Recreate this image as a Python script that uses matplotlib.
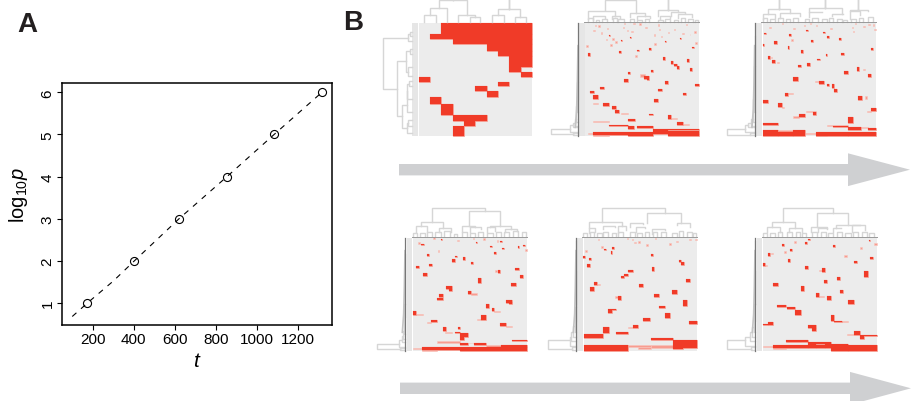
import numpy as np
import matplotlib
matplotlib.use("Agg")
import matplotlib.pyplot as plt
from matplotlib.patches import Polygon

plt.rcParams['font.family'] = ['Liberation Sans', 'DejaVu Sans']
plt.rcParams['mathtext.fontset'] = 'custom'
plt.rcParams['mathtext.rm'] = 'Liberation Sans'
plt.rcParams['mathtext.it'] = 'Liberation Sans:italic'

W, H = 911, 402
RED, PALE, BG, DEND = '#F03B28', '#F79C90', '#ECECEC', '#D6D6D6'

# ---- panel A data
t_line = [100, 174, 300, 403, 621, 855, 1085, 1318]
logp_line = [0.68, 1, 1.52, 2, 3, 4, 5, 6]
t_pts = [174, 403, 621, 855, 1085, 1318]
logp_pts = [1, 2, 3, 4, 5, 6]
xticks = [200, 400, 600, 800, 1000, 1200]
yticks = [1, 2, 3, 4, 5, 6]

# ---- panel B data: block tuples are (col0, col1, row0, row1); merges (a, b, ha, hb, top)
p1_red = [(304,576,71,105),(270,576,105,120),(338,576,120,134),(440,576,134,155),(474,576,155,172),
          (508,576,172,205),(508,542,205,218),(542,576,218,235),(236,270,235,249),(474,508,249,260),
          (406,440,260,277),(440,474,277,293),(270,304,293,315),(304,338,315,347),(338,440,347,367),
          (372,406,367,381),(338,372,381,410)]
p1_pale = []
p1_top = [(253,287,70,70,49),(270,321,49,70,28),(355,406,70,55,49),(389,421,70,70,55),(296,380,28,49,4),
          (338,338,4,4,-3),(457,491,70,70,49),(525,559,70,70,55),(473,541,49,55,31),(508,508,31,31,-3)]
p1_left = [(100,112,215,215,210),(106,126,210,215,205),(118,271,205,170,130),(150,165,215,215,209),
           (204,232,215,215,205),(155,218,209,205,197),(187,352,197,187,170),(245,262,215,215,206),
           (254,300,206,215,200),(275,340,200,215,200),(318,387,200,202,187),(362,380,215,215,205),
           (372,402,205,215,202)]

p2_red = [(177,180,108,112),(240,243,114,117),(213,217,123,126),(391,393,117,120),(344,348,125,128),
          (427,433,143,147),(208,213,156,163),(260,266,152,156),(298,303,148,153),(114,120,162,170),
          (338,344,174,182),(410,416,180,188),(364,370,186,194),(373,380,195,202),(380,386,202,209),
          (419,426,208,215),(303,310,213,220),(234,240,220,226),(283,290,232,240),(291,297,232,242),
          (222,233,240,248),(344,354,247,256),(436,446,255,262),(150,161,264,271),(120,131,275,281),
          (324,336,270,276),(400,408,282,289),(130,144,289,299),(311,324,300,310),(160,176,311,320),
          (186,197,322,331),(196,206,333,343),(296,310,344,349),(353,363,348,360),(233,254,360,367),
          (380,400,369,378),(177,233,378,382),(233,253,381,389),(260,310,380,388),(310,354,389,404),
          (354,446,389,393),(354,446,397,404),(130,310,400,408),(234,310,403,410),(354,446,404,410)]
p2_pale = [(134,138,78,82),(145,150,79,84),(170,174,87,90),(130,135,92,96),(152,155,99,105),(222,225,72,76),
           (218,222,84,88),(230,234,93,96),(244,248,96,100),(250,255,72,75),(268,272,72,77),(286,290,83,88),
           (325,328,75,80),(327,330,90,93),(311,315,105,110),(354,357,99,102),(371,374,89,92),(397,401,101,104),
           (408,411,75,78),(433,437,96,101),(419,421,104,108),(333,337,111,114),(186,191,117,122),(168,172,120,123),
           (195,200,127,132),(181,187,136,140),(435,440,129,135),(312,317,132,137),(108,113,138,143),(254,260,168,175),
           (271,284,226,233),(130,145,312,315),(213,233,343,345),(364,380,357,359),(130,176,366,369),(400,416,376,378),
           (113,130,402,404),(130,177,408,410)]
p2_top = [(164,259,33,42,2),(355,355,33,33,-3),(115,196,60,50,36),(130,165,62,58,52),(185,210,60,58,50),
          (241,285,55,50,42),(262,300,60,58,50),(323,384,50,38,33),(364,404,50,42,38),(330,360,60,58,50),
          (385,425,58,55,44),(115,130,68,68,58),(137,148,68,68,62),(155,172,68,68,60),(188,200,68,68,58),
          (205,222,68,68,60),(240,252,68,68,60),(262,275,68,68,62),(285,298,68,68,60),(325,338,68,68,62),
          (346,360,68,68,60),(372,385,68,68,62),(392,405,68,68,58),(415,430,68,68,60),(435,443,68,68,62)]
p2_left = [(402,409,85,85,70),(389,406,60,70,2),(378,400,68,85,60),(372,385,75,85,68),(360,380,78,85,75),
           (320,370,82,85,78),(250,340,84,85,82),(140,300,85,85,84)]

p3_red = [(243,248,92,96),(295,299,99,102),(117,122,102,106),(192,197,105,111),(307,311,111,117),(342,347,117,122),
          (259,265,123,128),(148,156,127,135),(188,193,141,149),(113,118,135,141),(228,233,154,161),(349,358,162,167),
          (438,443,147,154),(302,307,165,172),(128,134,172,179),(142,149,183,192),(276,284,180,184),(247,254,192,200),
          (219,227,199,205),(395,403,204,215),(358,368,216,226),(428,438,226,235),(204,218,235,245),(283,296,246,254),
          (320,327,255,268),(307,313,255,260),(327,336,270,280),(180,188,282,292),(398,412,292,302),(113,130,303,313),
          (159,170,312,325),(265,274,339,347),(222,240,346,354),(437,453,327,335),(368,384,354,372),(113,160,373,377),
          (325,368,381,385),(369,408,385,394),(428,453,386,394),(113,160,393,410),(205,240,393,410),(160,205,400,410),
          (272,369,400,410),(369,453,400,410)]
p3_pale = [(170,174,72,76),(238,241,78,81),(256,258,72,74),(273,277,78,82),(133,137,83,86),(205,209,87,91),
           (316,320,86,90),(380,383,84,87),(384,388,96,99),(390,394,72,75),(415,419,80,83),(428,434,74,78),
           (443,447,74,80),(448,453,90,93),(197,203,121,125),(137,142,173,176),(156,161,190,193),(414,419,210,212),
           (271,284,246,248),(188,203,282,285),(420,427,292,300),(170,178,323,327),(244,274,336,339),(205,222,352,356),
           (426,437,335,338),(306,368,378,381),(384,428,385,388),(160,205,394,400),(240,272,402,404),(272,306,408,410)]
p3_top = [(163,163,30,30,-3),(301,301,27,27,-3),(400,400,33,33,-3),(128,196,46,42,30),(252,350,38,44,27),
          (376,430,36,36,33),(115,150,60,58,46),(165,225,58,50,42),(252,290,55,38,38),
          (320,355,52,46,44),(376,405,60,48,36),(115,127,68,68,58),(135,150,68,68,60),(160,175,68,68,58),
          (182,195,68,68,60),(205,220,68,68,58),(240,252,68,68,60),(262,278,68,68,58),(290,305,68,68,60),
          (312,325,68,68,58),(335,350,68,68,60),(355,365,68,68,62),(378,392,68,68,60),(402,415,68,68,58),
          (428,443,68,68,55)]
p3_left = [(402,409,90,90,76),(390,407,60,76,7),(378,400,70,90,60),(372,385,78,90,70),(360,380,84,90,78),
           (300,370,87,90,84),(200,340,89,90,87),(110,300,90,90,89)]

p4_red = [(212,216,104,107),(390,395,111,114),(317,321,114,117),(153,161,119,123),(360,365,125,128),(395,402,132,135),
          (443,447,127,131),(459,464,124,127),(373,377,143,150),(170,176,150,155),(255,261,155,159),(278,284,159,167),
          (247,254,166,175),(304,309,175,180),(178,185,180,186),(137,146,186,193),(436,448,192,198),(385,391,198,208),
          (159,171,207,215),(451,460,213,223),(324,333,223,236),(424,437,237,247),(228,246,246,255),(238,246,255,262),
          (208,220,270,278),(201,220,282,288),(294,304,262,271),(407,426,287,296),(417,426,295,301),(348,357,300,311),
          (365,373,311,322),(129,137,322,332),(333,347,332,347),(184,201,347,355),(390,407,357,366),(220,227,368,382),
          (263,270,368,374),(254,270,383,387),(270,293,388,398),(270,282,398,408),(270,294,417,424),(313,348,416,423),
          (425,470,407,412),(157,270,430,437),(270,470,430,440),(392,470,424,430)]
p4_pale = [(188,194,100,104),(262,267,108,111),(308,312,102,106),(340,345,102,107),(380,385,108,113),(145,150,115,119),
           (464,470,135,140),(203,208,139,143),(376,381,199,203),(304,320,268,272),(373,391,320,323),(137,158,329,332),
           (322,333,345,348),(170,184,354,358),(407,425,366,368),(226,245,385,388),(200,270,411,416),(270,348,416,418),
           (129,157,432,434),(348,392,424,429),(157,200,437,440)]
p4_top = [(187,345,55,22,12),(153,220,65,72,55),(298,391,65,65,22),(137,172,85,85,65),(208,243,85,85,72),
          (277,316,85,70,65),(360,422,70,75,65),(300,332,85,75,70),(352,375,85,80,70),(404,440,85,82,75),
          (130,142,96,96,88),(150,165,96,96,88),(172,185,96,96,85),(195,212,96,96,85),(222,240,96,96,82),
          (252,262,96,96,90),(277,290,96,96,85),(300,315,96,96,88),(325,340,96,96,85),(352,368,96,96,88),
          (378,392,96,96,85),(402,418,96,96,85),(430,445,96,96,82),(455,468,96,96,85)]
p4_left = [(432,439,106,106,90),(421,436,88,90,22),(408,428,96,106,88),(396,415,100,106,96),(380,405,103,106,100),
           (300,390,105,106,103),(150,340,106,106,105)]

p5_red = [(162,167,134,139),(186,191,129,134),(182,186,141,150),(100,106,156,162),(117,124,162,168),(302,308,149,155),
          (112,119,181,189),(388,394,169,174),(394,401,174,182),(233,248,199,203),(222,233,209,215),(213,222,216,223),
          (307,313,189,200),(408,419,224,234),(132,140,235,243),(120,132,250,260),(266,279,241,250),(204,214,277,287),
          (312,328,270,278),(366,380,259,270),(398,411,289,305),(328,346,306,313),(345,360,328,342),(175,197,315,319),
          (175,186,319,327),(279,301,342,350),(416,441,351,360),(160,176,370,386),(250,265,362,372),(197,235,385,391),
          (101,160,391,402),(302,368,402,408),(368,441,408,432),(101,235,424,440),(368,400,432,434)]
p5_pale = [(143,148,105,108),(230,234,102,105),(245,249,106,109),(252,257,114,118),(264,269,112,116),(288,293,121,125),
           (315,318,102,104),(358,364,118,122),(378,384,112,115),(418,423,104,107),(436,440,105,109),(152,159,127,131),
           (105,112,138,143),(142,150,240,242),(196,204,277,281),(235,250,368,372),(235,302,424,430),(265,302,430,434),
           (302,368,424,432)]
p5_top = [(155,344,55,28,12),(118,215,72,66,55),(292,394,58,58,28),(240,280,68,60,58),(380,420,62,70,58),
          (160,195,75,68,66),(205,228,88,78,66),(118,135,88,85,72),(305,345,90,78,75),(258,285,85,72,68),
          (100,110,96,96,88),(120,132,96,96,85),(140,155,96,96,88),(160,175,96,96,85),(185,198,96,96,88),
          (205,220,96,96,85),(240,255,96,96,85),(262,275,96,96,88),(285,298,96,96,85),(310,322,96,96,85),
          (332,348,96,96,85),(365,380,96,96,88),(388,400,96,96,82),(410,425,96,96,85),(428,438,96,96,88)]
p5_left = [(430,437,79,79,65),(409,436,60,65,-6),(398,425,62,79,60),(385,412,70,79,62),(365,400,74,79,70),
           (310,385,77,79,74),(200,350,79,79,77),(110,300,79,79,79)]

p6_red = [(250,255,104,108),(240,245,115,120),(172,177,120,125),(194,200,134,142),(130,136,146,155),(324,330,124,130),
          (432,436,108,112),(436,443,158,165),(387,396,171,177),(188,195,165,173),(114,120,177,186),(241,250,185,195),
          (291,299,193,203),(418,430,201,218),(337,344,218,228),(298,307,227,237),(144,160,237,245),(227,236,245,261),
          (345,354,259,268),(273,282,267,278),(307,318,277,289),(368,387,288,301),(157,184,303,309),(185,209,309,315),
          (209,227,318,333),(318,327,333,350),(327,350,350,353),(130,144,353,362),(114,130,359,362),(249,272,362,372),
          (262,272,372,381),(388,406,381,392),(406,418,393,406),(418,456,393,397),(182,249,407,415),(144,249,422,433),
          (249,318,415,420),(249,272,420,433),(300,318,420,433),(272,300,424,433),(318,368,420,440),(368,456,424,440)]
p6_pale = [(208,214,112,116),(176,183,141,147),(137,143,146,149),(356,366,153,158),(405,412,129,134),(448,456,117,122),
           (120,125,183,186),(282,291,198,202),(282,298,275,278),(350,368,351,355),(367,388,390,393),(186,227,412,415),
           (114,144,426,428),(144,182,432,435)]
p6_top = [(175,323,55,28,13),(142,209,68,72,55),(277,370,68,62,28),(127,165,85,85,68),(192,230,85,85,72),
          (259,306,85,72,68),(334,405,72,64,62),(280,305,85,75,72),(325,347,85,72,72),(380,420,85,78,64),
          (115,127,96,96,88),(135,150,96,96,88),(158,172,96,96,85),(185,200,96,96,85),(212,226,96,96,85),
          (230,242,96,96,88),(260,275,96,96,85),(288,302,96,96,85),(310,325,96,96,88),(335,350,96,96,85),
          (360,378,96,96,88),(385,398,96,96,85),(410,425,96,96,85),(432,448,96,96,88)]
p6_left = [(428,437,91,91,78),(409,434,60,78,7),(400,425,76,91,60),(385,412,82,91,76),(370,400,86,91,82),
           (300,385,89,91,86),(200,350,91,91,89),(110,300,91,91,91)]

# taper of the fine leaf comb left of the dark line: (offset left of the line, row)
wedge_offset = [1, 3, 5, 9]
wedge_row = [140, 250, 330, 385]

# crop origin (px), crop size (px), heat col range, heat row range, strip range
panels = [
    dict(o=(340, 0), s=(200, 150), heat=(236,576,71,410), strip=(216,234), red=p1_red, pale=p1_pale, top=p1_top, left=p1_left, dark=None, base=None),
    dict(o=(550, 0), s=(180, 150), heat=(106,446,71,410), strip=(87,104), red=p2_red, pale=p2_pale, top=p2_top, left=p2_left, dark=85, base=69),
    dict(o=(725, 0), s=(186, 150), heat=(113,453,71,410), strip=(93,111), red=p3_red, pale=p3_pale, top=p3_top, left=p3_left, dark=90, base=69),
    dict(o=(370, 205), s=(170, 150), heat=(129,470,101,440), strip=(110,127), red=p4_red, pale=p4_pale, top=p4_top, left=p4_left, dark=106, base=98),
    dict(o=(550, 205), s=(180, 150), heat=(101,441,101,440), strip=(82,99), red=p5_red, pale=p5_pale, top=p5_top, left=p5_left, dark=79, base=98),
    dict(o=(725, 205), s=(186, 150), heat=(114,456,101,440), strip=(95,112), red=p6_red, pale=p6_pale, top=p6_top, left=p6_left, dark=91, base=98),
]

arrow_x = [(399, 848, 910), (400, 850, 911)]
arrow_y = [170.7, 389.3]

fig = plt.figure(figsize=(W/100, H/100), dpi=100)

# ---- panel A
ax = fig.add_axes([62/W, 1-326/H, 270/W, 242/H])
ax.plot(t_line, logp_line, color='black', lw=0.8, dashes=(5, 5.5))
ax.plot(t_pts, logp_pts, 'o', mfc='none', mec='black', mew=0.8, ms=5.8)
ax.set_xlim(50, 1367)
ax.set_ylim(0.478, 6.22)
ax.set_xticks(xticks)
ax.set_yticks(yticks)
ax.tick_params(length=3.3, width=0.8, labelsize=11, pad=2)
for lab in ax.get_yticklabels():
    lab.set_rotation(90)
    lab.set_va('center')
for s in ax.spines.values():
    s.set_linewidth(1.1)
ax.set_xlabel(r'$\mathit{t}$', fontsize=15, labelpad=3)
ax.set_ylabel(r'$\mathrm{log}_{10}\mathit{p}$', fontsize=14.5)
ax.yaxis.set_label_coords(-0.118, 0.54)
fig.text(17/W, 1-32/H, 'A', fontsize=20, fontweight='bold', color='#231F20')
fig.text(343/W, 1-30/H, 'B', fontsize=20, fontweight='bold', color='#231F20')


def merges_to_path(merges, horizontal):
    xs, ys = [], []
    for a, b, ha, hb, top in merges:
        px, py = [a, a, b, b, np.nan], [ha, top, top, hb, np.nan]
        if horizontal:
            px, py = py, px
        xs += px
        ys += py
    return xs, ys


# ---- panel B
for p in panels:
    (ox, oy), (w, h) = p['o'], p['s']
    a = fig.add_axes([ox/W, 1-(oy+h)/H, w/W, h/H])
    a.set_xlim(0, 3*w)
    a.set_ylim(3*h, 0)
    a.axis('off')
    c0, c1, r0, r1 = p['heat']
    a.bar(c0, r1-r0, c1-c0, bottom=r0, align='edge', color=BG, lw=0)
    a.bar(p['strip'][0], r1-r0, p['strip'][1]-p['strip'][0], bottom=r0, align='edge', color='#E6E6E6', lw=0)
    if p['pale']:
        b = np.array(p['pale'], dtype=float)
        a.bar(b[:, 0], b[:, 3]-b[:, 2], b[:, 1]-b[:, 0], bottom=b[:, 2], align='edge',
              color=PALE, edgecolor='#F9C4BC', lw=0.4)
    b = np.array(p['red'], dtype=float)
    # soft halo first, then the solid fill, so neighbouring blocks show no seams
    a.bar(b[:, 0], b[:, 3]-b[:, 2], b[:, 1]-b[:, 0], bottom=b[:, 2], align='edge',
          color=PALE, edgecolor=PALE, lw=0.5)
    a.bar(b[:, 0], b[:, 3]-b[:, 2], b[:, 1]-b[:, 0], bottom=b[:, 2], align='edge',
          color=RED, edgecolor=RED, lw=0.1)
    x, y = merges_to_path(p['top'], False)
    a.plot(x, y, color=DEND, lw=1.0, clip_on=False)
    x, y = merges_to_path(p['left'], True)
    a.plot(x, y, color=DEND, lw=1.0, clip_on=False)
    if p['dark'] is not None:
        a.plot(p['dark'] - np.array(wedge_offset), wedge_row, color='#C4C4C4', lw=1.2)
        a.plot([p['dark'], p['dark']], [r0, r1], color='#777777', lw=0.9)
        a.plot([c0-4, c1], [p['base'], p['base']], color='#999999', lw=0.7)

# ---- arrows
ov = fig.add_axes([0, 0, 1, 1])
ov.set_xlim(0, W)
ov.set_ylim(H, 0)
ov.axis('off')
ov.patch.set_alpha(0)
for (x0, x1, x2), yc in zip(arrow_x, arrow_y):
    ov.add_patch(Polygon([(x0, yc-5.7), (x1, yc-5.7), (x1, yc-16.4), (x2, yc), (x1, yc+16.4), (x1, yc+5.7), (x0, yc+5.7)],
                         closed=True, fc='#CFD0D2', ec='none'))

fig.savefig('out.png', dpi=100)
